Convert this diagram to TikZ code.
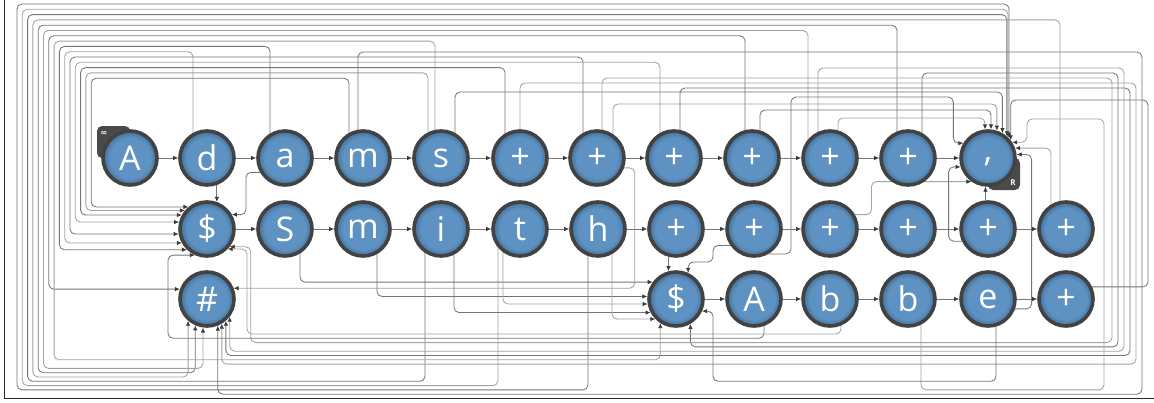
\documentclass[tikz,border=0pt]{standalone}
\usepackage{fontspec}
\setmainfont{Open Sans}
\newfontfamily\symfont{DejaVu Sans}
\usetikzlibrary{arrows.meta,calc}
\pgfdeclarelayer{bg}
\pgfsetlayers{bg,main}
\definecolor{ballin}{RGB}{94,146,194}
\definecolor{ballout}{RGB}{66,110,152}
\definecolor{rim}{RGB}{66,66,66}
\definecolor{wirea}{RGB}{118,118,118}
\definecolor{wireb}{RGB}{162,162,162}
\definecolor{tipc}{RGB}{58,58,58}
\definecolor{badgec}{RGB}{74,74,74}
\pgfdeclareradialshading{ball}{\pgfpoint{0bp}{0bp}}{color(0bp)=(ballin); color(19bp)=(ballin); color(25bp)=(ballout); color(50bp)=(ballout)}
\begin{document}
\begin{tikzpicture}[x=1pt,y=-1pt,
  ball/.style={circle,minimum size=54pt,inner sep=0pt,line width=3.6pt,draw=rim,shading=ball,text=white,font=\fontsize{34}{34}\selectfont},
  link/.style={draw=wirea,line width=0.85pt,-{Latex[length=5pt,width=4.5pt,color=tipc]}},
  wire/.style={draw=wirea,line width=0.85pt,rounded corners=5pt,-{Latex[length=5pt,width=4.5pt,color=tipc]}},
  wirel/.style={wire,draw=wireb},
  badge/.style={fill=badgec,rounded corners=5pt},
  tag/.style={text=white,inner sep=0pt,font=\fontsize{8}{8}\selectfont\bfseries}]
\useasboundingbox (0,0) rectangle (1154,402);

\node[ball] (nA) at (130,158) {A};
\node[ball] (nd) at (207,158) {d};
\node[ball] (na) at (285,158) {a};
\node[ball] (nm) at (363,158) {m};
\node[ball] (ns) at (441,158) {s};
\node[ball] (pa) at (520,158) {+};
\node[ball] (pb) at (597,158) {+};
\node[ball] (pc) at (674,158) {+};
\node[ball] (pd) at (752,158) {+};
\node[ball] (pe) at (830,158) {+};
\node[ball] (pf) at (908,158) {+};
\node[ball,text height=0.6em,text depth=0pt] (nc) at (988,158) {,};

\node[ball] (dA) at (207,229) {\$};
\node[ball] (nS) at (285,229) {S};
\node[ball] (nm2) at (363,229) {m};
\node[ball] (ni) at (441,229) {i};
\node[ball] (nt) at (520,229) {t};
\node[ball] (nh) at (598,229) {h};
\node[ball] (qa) at (676,229) {+};
\node[ball] (qb) at (754,229) {+};
\node[ball] (qc) at (830,229) {+};
\node[ball] (qd) at (908,229) {+};
\node[ball] (qe) at (988,229) {+};
\node[ball] (qf) at (1066,229) {+};

\node[ball] (hs) at (207,299) {\#};
\node[ball] (dB) at (676,299) {\$};
\node[ball] (nA2) at (754,299) {A};
\node[ball] (nb) at (830,299) {b};
\node[ball] (nb2) at (908,299) {b};
\node[ball] (ne) at (988,299) {e};
\node[ball] (ra) at (1066,299) {+};

\node[tag] (inf) at (104,133) {\symfont ∞};
\node[tag] (rtag) at (1013,183) {R};

\draw[link] (nA) -- (nd);
\draw[link] (nd) -- (na);
\draw[link] (na) -- (nm);
\draw[link] (nm) -- (ns);
\draw[link] (ns) -- (pa);
\draw[link] (pa) -- (pb);
\draw[link] (pb) -- (pc);
\draw[link] (pc) -- (pd);
\draw[link] (pd) -- (pe);
\draw[link] (pe) -- (pf);
\draw[link] (pf) -- (nc);
\draw[link] (dA) -- (nS);
\draw[link] (nS) -- (nm2);
\draw[link] (nm2) -- (ni);
\draw[link] (ni) -- (nt);
\draw[link] (nt) -- (nh);
\draw[link] (nh) -- (qa);
\draw[link] (qa) -- (qb);
\draw[link] (qb) -- (qc);
\draw[link] (qc) -- (qd);
\draw[link] (qd) -- (qe);
\draw[link] (qe) -- (qf);
\draw[link] (dB) -- (nA2);
\draw[link] (nA2) -- (nb);
\draw[link] (nb) -- (nb2);
\draw[link] (nb2) -- (ne);
\draw[link] (ne) -- (ra);
\draw[link] (nd.290) -- (dA.70);
\draw[link] (qa.255) -- (dB.105);
\draw[link] (qe.95) -- (nc.265);

\begin{pgfonlayer}{bg}
\fill[white] (0,0) rectangle (1154,402);
\draw[line width=1pt,black!85] (4,0) -- (4,398.5) -- (1154,398.5);

\draw[wire] (nh.center) ++(-10,0) |- (17,389.9) -- (17,4) -| (nc.43);
\draw[wirel] (nt.center) ++(-22,0) |- (22.3,385.6) -- (22.3,9.3) -| (nc.46);
\draw[wire] (ni.center) ++(-16,0) |- (27.6,381.3) -- (27.6,14.6) -| (nc.49);
\draw[wirel] (qf.center) ++(-6,0) |- (32.9,19.9) -- (32.9,377) -| (hs.229);
\draw[wire] (pf.center) ++(-11,0) |- (38.2,25.2) -- (38.2,372.7) -| (hs.246);
\draw[wirel] (pe.center) ++(-22,0) |- (43.5,30.5) -- (43.5,368.4) -| (hs.262);
\draw[wire] (pd.center) ++(-7,0) |- (48.8,35.8) |- (hs.160);
\draw[wirel] (ns.center) ++(-6,0) |- (54.1,41.1) -- (54.1,359.8) -| (dB.237);
\draw[wire] (na.center) ++(-15,0) |- (59.4,46.4) |- (dA.226);
\draw[wirel] (nd.center) ++(-14,0) |- (64.7,51.7) |- (dA.209);
\draw[wire] (pb.center) ++(-14,0) |- (70,57) |- (dA.190);
\draw[wirel] (pc.center) ++(-14,0) |- (75.3,62.3) |- (dA.166);
\draw[wire] (pa.center) ++(-15,0) |- (80.6,67.6) |- (dA.151);
\draw[wirel] (ns.center) ++(-13,0) |- (85.9,72.9) |- (dA.140);
\draw[wire] (nm.center) ++(-14,0) |- (91.2,78.2) |- (dA.130);

\draw[wire] (nm.center) ++(-5,0) |- (1142,52) -- (1142,394.2) -| (hs.292);
\draw[wirel] (pa.center) |- (1136,83) -- (1136,364.1) -| (hs.301);
\draw[wire] (pc.center) ++(6,0) |- (1130,88) -- (1130,355.5) -| (hs.311);
\draw[wirel] (pe.center) ++(-12,0) |- (1124,68) -- (1124,351.2) -| (hs.322);
\draw[wire] (pf.center) ++(14,0) |- (1118,73) -- (1118,346.9) -| (dB.300);
\draw[wirel] (pb.center) ++(5,0) |- (1112,78) -- (1112,342.6) -| ($(dA.322)+(21,0)$) -- (dA.322);

\draw[wire] (ns.center) ++(14,0) -- ++(0,-66) -| (nc.60);
\draw[wirel] (pb.center) ++(16,0) -- ++(0,-54) -| (nc.72);
\draw[wire] (pd.center) ++(8,0) -- ++(0,-48) -| (nc.84);
\draw[wirel] (pe.center) ++(8,0) -- ++(0,-40) -| (nc.96);

\draw[wire] (qb.300) -| (791,97) -| ($(nc.149)+(-10,0)$) -- (nc.149);
\draw[wirel] (qc.30) -| ($(nc.235)+(-100,0)$) -- (nc.235);
\draw[wire] (qe.205) -| ($(nc.198)+(-12,0)$) -- (nc.198);
\draw[wirel] (qf.center) ++(-15,0) |- (nc.20);
\draw[wire] (ne.340) -| ($(nc.7)+(15,0)$) -- (nc.7);
\draw[wirel] (nb2.center) ++(13,0) |- (1104,389.9) |- (1027,119) |- (nc.33);
\draw[wire] (ra.25) -| (1148,100) -| (nc.38);

\draw[wire] (nA2.center) ++(10,0) |- (168,338.3) |- (dA.245);
\draw[wirel] (nb.center) ++(11,0) |- (247,334) |- (dA.316);
\draw[wire] (ne.center) ++(8,0) |- (713,381.3) |- (dB.335);

\draw[wire] (nS.center) ++(15,0) |- (dB.144);
\draw[wirel] (pb.340) -| ($(hs.22)+(401,0)$) -- (hs.22);
\draw[wire] (nm2.center) ++(14,0) |- (dB.175);
\draw[wirel] (nt.center) ++(-17,0) |- (dB.190);
\draw[wire] (ni.center) ++(13,0) |- (dB.208);
\draw[wirel] (nh.center) ++(14,0) |- (dB.224);
\draw[wire] (qb.215) -| (713,262) -| (dB.65);
\draw[wire] (na.210) -| ($(dA.30)+(14,0)$) -- (dA.30);

\fill[badge] (97,126) rectangle (130,158);
\fill[badge] (988,158) rectangle (1020,190);
\end{pgfonlayer}
\end{tikzpicture}
\end{document}
